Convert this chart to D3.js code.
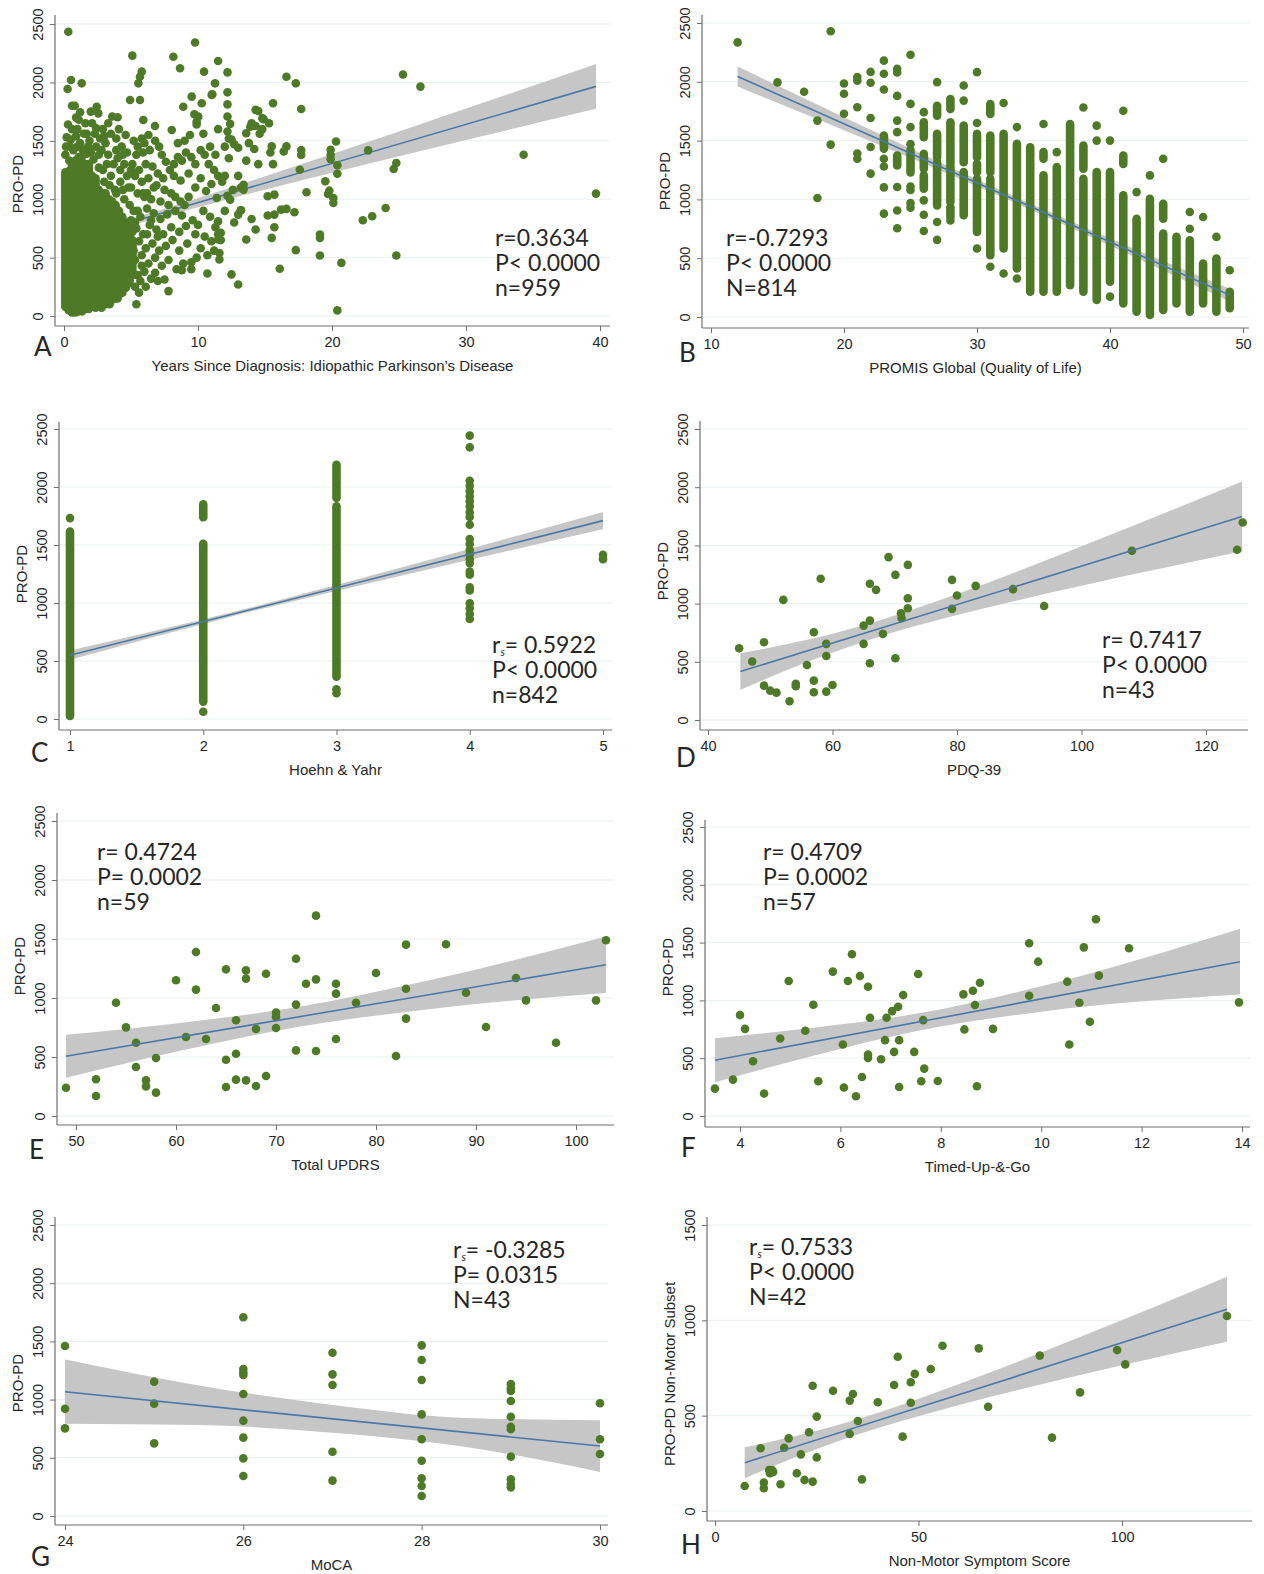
<!DOCTYPE html>
<html>
<head>
<meta charset="utf-8">
<script src="https://cdn.jsdelivr.net/npm/d3@7/dist/d3.min.js"></script>
<style>
  body { margin: 0; background: #fff; }
  svg { display: block; }
</style>
</head>
<body>
<svg id="chart" width="1264" height="1574"></svg>
<script>
// ---- Panel A: years since diagnosis ----
// dense core of the cloud, read as vertical runs [years, lo, hi]
const yearsRuns = [
  [0.1, 80, 1230], [0.35, 50, 1240], [0.6, 30, 1290], [0.85, 30, 1330], [1.1, 40, 1360],
  [1.35, 40, 1280], [1.6, 60, 1240], [1.85, 60, 1300], [2.1, 80, 1200], [2.35, 70, 1180],
  [2.6, 100, 1080], [2.85, 110, 1050], [3.1, 100, 1050], [3.35, 120, 1000], [3.6, 140, 980],
  [3.85, 150, 950], [4.1, 180, 900], [4.35, 200, 850], [4.6, 240, 800], [4.85, 280, 760], [5.1, 350, 650]
];
const yearsDots = [
  [0.32,2434],[0.52,2021],[0.27,1943],[1.32,1992],[0.6,1800],[0.8,1800],[0.3,1640],[1.0,1600],
  [1.2,1745],[2.1,1650],[2.4,1608],[2.44,1792],[2.56,1735],[3.6,1708],[4.0,1702],[1.6,1650],
  [4.93,1849],[5.67,1849],[5.1,2229],[5.8,2092],[5.67,2049],[5.55,1992],[5.92,1678],[6.79,1627],
  [8.16,2220],[8.66,2121],[9.78,2341],[10.45,2092],[11.5,2183],[12.2,2086],[11.27,1992],[11.07,1898],
  [12.2,1915],[12.2,1812],[9.53,1878],[10.28,1821],[11.02,1893],[8.9,1792],[9.73,1727],[10.02,1707],
  [9.9,1664],[8.04,1592],[12.2,1708],[12.4,1645],[12.2,1580],[12.5,1510],[12.7,1470],[13.0,1440],
  [13.6,1564],[13.9,1620],[14.3,1627],[14.5,1755],[14.9,1684],[15.6,1821],[16.6,2049],[17.3,1992],
  [17.7,1772],[25.3,2067],[26.6,1964],
  [0.2,1530],[0.5,1510],[0.9,1540],[1.2,1480],[1.5,1560],[1.9,1500],[2.3,1560],[2.7,1520],
  [3.1,1480],[3.5,1560],[3.9,1520],[4.3,1450],[4.7,1400],[0.7,1420],[1.4,1420],[2.0,1400],
  [2.6,1380],[3.3,1380],[4.0,1350],[4.5,1300],[2.9,1250],[3.5,1200],[4.2,1150],[4.8,1100],
  [3.0,1150],[3.8,1080],[4.5,1000],[4.9,950],[5.0,820],[5.1,720],[5.2,560],[5.0,420],
  [4.9,300],[4.6,250],[4.0,150],[3.4,100],[2.8,70],[5.4,100],[2.2,1340],[1.7,1390],
  [0.4,1330],[4.2,1250],[3.7,1300],
  [0.1,1380],[0.15,1450],[0.6,1600],[1.0,1450],[1.3,1350],[1.8,1450],[2.4,1450],[2.8,1420],
  [3.2,1300],[3.9,1420],[4.4,1380],[4.7,1200],[5.0,1250],[1.1,1680],[1.7,1560],[2.9,1600],
  [3.3,1650],[0.9,1700],[2.0,1750],[3.0,1540],[4.1,1600],[4.6,1550],[0.45,1450],[1.6,1300],
  [2.6,1270],[3.4,1120],[3.9,1050],[4.4,1080],
  [5.3,250],[5.6,200],[5.8,430],[6.2,700],[5.5,900],[6.5,820],[5.9,1050],[6.7,1100],
  [6.2,1050],[7.0,680],[5.3,800],[5.7,300],
  [5.2,1500],[5.5,1450],[5.8,1520],[6.0,1480],[6.3,1550],[5.4,1380],[5.9,1400],[6.4,1420],
  [6.8,1500],[7.1,1450],[7.3,1380],[7.6,1320],[7.9,1250],[8.2,1300],[5.1,1300],[5.6,1250],
  [6.1,1300],[6.6,1280],[7.0,1220],[7.4,1180],[5.3,1200],[5.8,1150],[6.3,1180],[6.9,1120],
  [7.5,1080],[8.0,1050],[5.0,1100],[5.5,1050],[6.0,1020],[6.5,1000],[7.2,980],[7.8,950],
  [8.3,1020],[8.7,980],[9.0,950],[9.3,1020],
  [8.5,1360],[8.8,1330],[9.1,1400],[9.5,1360],[9.8,1300],[10.2,1420],[10.5,1380],[10.8,1300],
  [11.2,1250],[11.5,1200],[11.8,1150],[12.0,1200],[12.3,1350],[12.0,1450],[12.3,1520],[11.5,1600],
  [9.0,1500],[8.5,1480],[9.4,1550],[9.9,1640],[10.4,1560],[10.9,1450],[11.3,1380],[8.2,1200],
  [8.7,1160],[9.3,1220],[9.8,1100],[10.2,1180],[10.6,1070],[11.0,1130],[11.4,1010],[12.2,1030],
  [12.6,1080],[13.0,1200],[13.2,1100],
  [5.2,900],[5.7,850],[6.2,920],[6.7,880],[7.2,830],[7.7,870],[8.3,900],[8.8,860],
  [5.4,750],[5.9,700],[6.4,780],[6.9,740],[7.4,700],[8.0,760],[8.6,720],[9.1,770],
  [5.1,600],[5.6,640],[6.1,580],[6.6,620],[7.1,560],[7.6,600],[8.1,650],[8.6,560],
  [9.2,620],[5.3,480],[5.8,520],[6.3,450],[6.8,500],[7.3,430],[7.8,480],[8.4,400],
  [8.9,450],[9.5,400],[5.5,350],[6.0,380],[6.5,320],[7.0,300],[7.5,313],[7.8,213],
  [6.1,250],[6.8,370],[8.8,393],[9.5,460],
  [9.6,820],[10.0,780],[10.4,900],[10.9,850],[11.3,760],[9.8,700],[10.5,680],[11.0,640],
  [11.5,700],[11.7,650],[10.2,580],[10.7,520],[11.2,560],[11.6,540],[11.6,484],[9.9,500],
  [10.7,364],[12.5,356],[13.0,270],[12.0,900],[12.4,996],[13.2,905],[13.0,868],[12.7,800],
  [11.5,811],[11.7,712],[11.5,655],
  [22.7,1418],[20.3,1494],[19.9,1423],[19.9,1380],[19.9,1343],[20.4,1290],[20.4,1218],[24.8,1310],
  [24.6,1258],[34.3,1380],[39.7,1048],[19.5,1153],[19.8,1073],[19.7,1045],[20.1,1010],[20.1,968],
  [18.1,1059],[15.5,1452],[15.4,1400],[15.6,1300],[16.4,1409],[16.6,1452],[17.6,1252],[17.7,1421],
  [17.7,1378],[24.0,925],[23.0,854],[22.3,820],[19.1,697],[19.1,669],[19.1,518],[20.7,455],
  [20.4,48],[24.8,518],[16.1,404],[17.3,564],[13.6,655],[15.5,669],[15.7,760],[14.3,740],
  [14.0,831],[15.2,860],[15.7,868],[16.2,911],[16.6,917],[17.2,888],[15.7,1039],[15.2,1025],
  [13.4,1124],[13.4,1082],[13.2,905],[14.8,1694],[14.0,1650],[14.3,1765],[13.8,1480],[14.2,1430],
  [14.6,1560],[14.8,1600],[15.3,1650],[13.6,1330],[14.5,1300]
];

// ---- Panel B: PROMIS global, integer columns ----
const promisRuns = [
  [23,1430,1543],[24,1288,1373],[25,1230,1420],
  [26,1528,1655],[26,1260,1387],[26,1091,1204],
  [27,1712,1796],[27,1359,1557],[27,949,1316],
  [28,1768,1853],[28,1316,1655],[28,978,1288],[28,850,935],
  [29,1316,1627],[29,865,1232],
  [30,1359,1557],[30,1232,1302],[30,723,1176],
  [31,1726,1810],[31,1232,1543],[31,526,1176],
  [32,582,1557],[33,413,1472],[34,215,1444],
  [35,1345,1402],[35,215,1204],[36,215,1275],[37,271,1641],
  [38,1260,1458],[38,215,1176],[39,144,1232],[40,300,1232],
  [41,1302,1373],[41,116,1034],[42,46,836],[43,17,1006],
  [44,836,963],[44,60,709],[45,116,681],[46,46,653],[47,116,455],[48,46,497],[49,74,215]
];
const promisDots = [
  [12,2335],[15,1995],[17,1915],[18,1670],[18,1012],[19,2430],[19,1466],
  [20,1985],[20,1898],[20,1728],[21,2040],[21,2010],[21,1784],[21,1390],[21,1345],
  [22,2084],[22,1992],[22,1692],[22,1445],[22,1219],
  [23,2180],[23,2068],[23,1935],[23,1345],[23,1280],[23,1102],[23,879],
  [24,2110],[24,2080],[24,1880],[24,1670],[24,1572],[24,1105],[24,905],[24,755],
  [25,2230],[25,1812],[25,1615],[25,1470],[25,1110],[25,1080],[25,968],[25,930],
  [26,1742],[26,992],[26,870],[26,731],[27,1997],[27,808],[27,656],[28,820],
  [29,1968],[29,1840],[30,2082],[30,1650],[30,582],[31,427],[32,1820],[32,370],
  [33,1615],[33,328],[35,1641],[36,1402],[38,1782],[39,1627],[39,1500],[40,1500],[40,173],
  [41,1754],[42,1062],[43,1204],[44,1345],[46,893],[46,751],[47,850],[48,681],[49,398]
];

// ---- Panel C: Hoehn & Yahr ----
const hyRuns = [[1,26,1617],[2,150,1510],[2,1740,1850],[3,365,1833],[3,1905,2060],[3,2080,2192]];
const hyDots = [
  [1,1732],[2,63],[3,222],[3,256],
  [4,2443],[4,2342],[4,2054],[4,2011],[4,1962],[4,1919],[4,1876],[4,1833],[4,1781],[4,1741],
  [4,1674],[4,1551],[4,1508],[4,1459],[4,1421],[4,1378],[4,1344],[4,1272],[4,1243],[4,1136],
  [4,1108],[4,998],[4,955],[4,906],[4,863],[5,1378],[5,1415]
];

// ---- Panel D: PDQ-39 ----
const pdqDots = [
  [45,616],[47.1,502],[49,668],[49,295],[50,252],[51,235],[52.1,1032],[53.1,161],[54.1,290],[54.1,312],
  [55.9,473],[57,754],[57,338],[57,238],[58.1,1213],[59,654],[59,550],[59,244],[60,301],[65,654],
  [65,811],[66,854],[66,1170],[66,487],[67,1118],[68.1,740],[69,1399],[70.1,1247],[70.1,530],[71,917],
  [71.1,874],[72.1,1333],[72.1,1046],[72.1,960],[79.2,1204],[79.2,955],[80,1069],[83,1152],[89,1124],[94,980],
  [108.1,1454],[125,1462],[125.9,1697]
];

// ---- Panel E: Total UPDRS ----
const updrsDots = [
  [49,240],[52,311],[52,169],[54,960],[55,751],[56,621],[56,415],[57,302],[57,251],[58,491],
  [58,198],[60,1150],[61,669],[62,1390],[62,1071],[63,653],[64,915],[65,1243],[65,477],[65,246],
  [66,811],[66,528],[66,308],[67,1234],[67,1164],[67,302],[68,737],[68,254],[69,1206],[69,339],
  [70,876],[70,839],[70,746],[72,1333],[72,944],[72,556],[73,1121],[74,1698],[74,1158],[74,551],
  [76,1121],[76,1037],[76,653],[78,960],[80,1212],[82,508],[83,1452],[83,1079],[83,825],[87,1455],
  [89,1045],[91,754],[94,1169],[95,980],[98,621],[102,980],[103,1489]
];

// ---- Panel F: Timed-Up-&-Go ----
const tugDots = [
  [3.5,237],[3.86,315],[4.0,873],[4.1,754],[4.26,474],[4.48,194],[4.8,671],[4.97,1168],[5.3,737],[5.46,962],
  [5.56,301],[5.85,1249],[6.05,618],[6.07,246],[6.15,1168],[6.23,1399],[6.31,171],[6.39,1211],[6.43,338],[6.55,1118],
  [6.55,532],[6.55,503],[6.59,850],[6.81,491],[6.89,656],[6.92,850],[7.03,907],[7.07,555],[7.15,945],[7.17,656],
  [7.17,251],[7.25,1046],[7.47,555],[7.55,1228],[7.61,301],[7.65,829],[7.67,410],[7.94,303],[8.45,1052],[8.47,749],
  [8.64,1084],[8.68,960],[8.72,257],[8.78,1153],[9.04,754],[9.76,1040],[9.76,1494],[9.94,1335],[10.52,1162],[10.56,618],
  [10.76,980],[10.85,1459],[10.97,815],[11.09,1702],[11.15,1214],[11.75,1451],[13.94,983]
];

// ---- Panel G: MoCA ----
const mocaDots = [
  [24,1460],[24,922],[24,753],[25,1154],[25,965],[25,624],
  [26,1707],[26,1263],[26,1234],[26,1211],[26,1048],[26,819],[26,673],[26,495],[26,344],
  [27,1403],[27,1217],[27,1125],[27,552],[27,304],
  [28,1466],[28,1340],[28,1168],[28,873],[28,659],[28,475],[28,324],[28,258],[28,172],
  [29,1134],[29,1097],[29,1074],[29,988],[29,853],[29,767],[29,745],[29,510],[29,315],[29,275],[29,246],
  [30,968],[30,659],[30,533]
];

// ---- Panel H: Non-motor symptom score ----
const nmsDots = [
  [7.3,131],[11.2,329],[12,149],[12,119],[13.3,215],[14,215],[13.5,198],[14.3,205],[16.1,140],[17,332],
  [18.1,381],[20.1,198],[21.1,297],[22,163],[23.1,413],[24,154],[24,657],[25,495],[25,281],[29,631],
  [33.1,579],[33.9,614],[33.1,404],[35.1,472],[36.1,166],[40,570],[44,661],[44.9,809],[46.1,390],[48.1,675],
  [48.1,568],[49.1,719],[53,745],[55.9,867],[64.8,853],[67.1,547],[79.8,815],[82.8,385],[89.7,622],[98.8,844],
  [100.8,769],[125.8,1023]
];

const fitLines = {
  A: [0, 636, 39.7, 1966], B: [12, 2045, 49, 186], C: [1, 550, 5, 1710], D: [45.2, 416, 125.8, 1749],
  E: [49, 506, 103, 1282], F: [3.5, 483, 13.96, 1335], G: [24, 1068, 30, 601], H: [7.3, 253, 125.8, 1058]
};
const bandX = {
  A: [0, 4.5, 10, 20, 30, 39.7], B: [12, 20, 34, 42, 49], C: [1, 2.2, 3.5, 5], D: [45.2, 55, 66, 80, 100, 125.8],
  E: [49, 60, 72, 85, 103], F: [3.5, 5.5, 7.5, 10, 13.96], G: [24, 25.5, 27, 28.5, 30], H: [7.3, 20, 35, 60, 90, 125.8]
};
const bandHW = {
  A: [45, 30, 40, 80, 135, 192], B: [85, 55, 25, 35, 55], C: [40, 18, 35, 75], D: [158, 100, 70, 90, 170, 300],
  E: [182, 120, 85, 120, 240], F: [190, 120, 75, 110, 285], G: [276, 170, 120, 125, 222], H: [81, 55, 40, 55, 100, 170]
};

const statsText = {
  A: ['r=0.3634', 'P< 0.0000', 'n=959'],
  B: ['r=-0.7293', 'P< 0.0000', 'N=814'],
  C: ['r_s= 0.5922', 'P< 0.0000', 'n=842'],
  D: ['r= 0.7417', 'P< 0.0000', 'n=43'],
  E: ['r= 0.4724', 'P= 0.0002', 'n=59'],
  F: ['r= 0.4709', 'P= 0.0002', 'n=57'],
  G: ['r_s= -0.3285', 'P= 0.0315', 'N=43'],
  H: ['r_s= 0.7533', 'P< 0.0000', 'N=42']
};

const proTicks = [0, 500, 1000, 1500, 2000, 2500];

// layout of the eight panels
const panels = [
  { id: 'A', runs: yearsRuns, dots: yearsDots, xTicks: [0, 10, 20, 30, 40], yTicks: proTicks,
    xRange: [64, 600], yRange: [316, 24], yAxisX: 55, xAxisY: 326, top: 15, right: 610, yTitleY: 184,
    xTitle: 'Years Since Diagnosis: Idiopathic Parkinson\u2019s Disease', yTitle: 'PRO-PD',
    stats: [495, 246], letter: [34, 356], lineOnTop: false },
  { id: 'B', runs: promisRuns, dots: promisDots, xTicks: [10, 20, 30, 40, 50], yTicks: proTicks,
    xRange: [711, 1243], yRange: [317, 23], yAxisX: 702, xAxisY: 328, top: 15, right: 1249, yTitleY: 181,
    xTitle: 'PROMIS Global (Quality of Life)', yTitle: 'PRO-PD',
    stats: [726, 246], letter: [679, 362], lineOnTop: true },
  { id: 'C', runs: hyRuns, dots: hyDots, xTicks: [1, 2, 3, 4, 5], yTicks: proTicks,
    xRange: [70, 603], yRange: [719, 429], yAxisX: 59, xAxisY: 730, top: 422, right: 612, yTitleY: 574,
    xTitle: 'Hoehn & Yahr', yTitle: 'PRO-PD',
    stats: [492, 653], letter: [31, 762], lineOnTop: true },
  { id: 'D', runs: [], dots: pdqDots, xTicks: [40, 60, 80, 100, 120], yTicks: proTicks,
    xRange: [708, 1206], yRange: [720, 429], yAxisX: 700, xAxisY: 730, top: 421, right: 1248, yTitleY: 571,
    xTitle: 'PDQ-39', yTitle: 'PRO-PD',
    stats: [1102, 648], letter: [676, 767], lineOnTop: true },
  { id: 'E', runs: [], dots: updrsDots, xTicks: [50, 60, 70, 80, 90, 100], yTicks: proTicks,
    xRange: [76, 576], yRange: [1116, 821], yAxisX: 57, xAxisY: 1125, top: 813, right: 614, yTitleY: 966,
    xTitle: 'Total UPDRS', yTitle: 'PRO-PD',
    stats: [97, 860], letter: [29, 1159], lineOnTop: true },
  { id: 'F', runs: [], dots: tugDots, xTicks: [4, 6, 8, 10, 12, 14], yTicks: proTicks,
    xRange: [740, 1242], yRange: [1116, 827], yAxisX: 705, xAxisY: 1127, top: 820, right: 1250, yTitleY: 967,
    xTitle: 'Timed-Up-&-Go', yTitle: 'PRO-PD',
    stats: [763, 860], letter: [681, 1157], lineOnTop: true },
  { id: 'G', runs: [], dots: mocaDots, xTicks: [24, 26, 28, 30], yTicks: proTicks,
    xRange: [65, 600], yRange: [1516, 1225], yAxisX: 55, xAxisY: 1525, top: 1217, right: 608, yTitleY: 1383,
    xTitle: 'MoCA', yTitle: 'PRO-PD',
    stats: [453, 1258], letter: [31, 1566], lineOnTop: true },
  { id: 'H', runs: [], dots: nmsDots, xTicks: [0, 50, 100], yTicks: [0, 500, 1000, 1500],
    xRange: [715, 1122], yRange: [1511, 1225], yAxisX: 707, xAxisY: 1521, top: 1217, right: 1252, yTitleY: 1374,
    xTitle: 'Non-Motor Symptom Score', yTitle: 'PRO-PD Non-Motor Subset',
    stats: [749, 1255], letter: [681, 1554], lineOnTop: true }
];

const GREEN = '#4e7a27';
const LINE = '#4a78a8';
const BAND = '#c6c6c6';
const AXIS = '#6f6f6f';
const GRID = '#e7eff1';
const TEXT = '#262626';
const AXIS_FONT = '"Liberation Sans", Arial, sans-serif';
const NOTE_FONT = 'Lato, "Open Sans", sans-serif';
const R = 4.3;

const svg = d3.select('#chart');

function drawPanel(p) {
  const g = svg.append('g').attr('class', 'panel panel-' + p.id);
  const xDomain = [p.xTicks[0], p.xTicks[p.xTicks.length - 1]];
  const yDomain = [p.yTicks[0], p.yTicks[p.yTicks.length - 1]];
  const x = d3.scaleLinear().domain(xDomain).range(p.xRange);
  const y = d3.scaleLinear().domain(yDomain).range(p.yRange);

  // gridlines
  g.selectAll('.grid').data(p.yTicks).join('line')
    .attr('class', 'grid')
    .attr('x1', p.yAxisX).attr('x2', p.right)
    .attr('y1', d => y(d)).attr('y2', d => y(d))
    .attr('stroke', GRID).attr('stroke-width', 1);

  // confidence band
  const f = fitLines[p.id];
  const fit = v => f[1] + (v - f[0]) * (f[3] - f[1]) / (f[2] - f[0]);
  const band = bandX[p.id].map((bx, i) => ({ x: bx, lo: fit(bx) - bandHW[p.id][i], hi: fit(bx) + bandHW[p.id][i] }));
  g.append('path')
    .datum(band)
    .attr('d', d3.area().x(d => x(d.x)).y0(d => y(d.lo)).y1(d => y(d.hi)).curve(d3.curveMonotoneX))
    .attr('fill', BAND);

  const drawLine = () => g.append('line')
    .attr('x1', x(f[0])).attr('y1', y(f[1]))
    .attr('x2', x(f[2])).attr('y2', y(f[3]))
    .attr('stroke', LINE).attr('stroke-width', 1.6);
  if (!p.lineOnTop) drawLine();

  // stacked runs of points and single points
  g.selectAll('.run').data(p.runs).join('line')
    .attr('class', 'run')
    .attr('x1', d => x(d[0])).attr('x2', d => x(d[0]))
    .attr('y1', d => y(d[1])).attr('y2', d => y(d[2]))
    .attr('stroke', GREEN).attr('stroke-width', R * 2).attr('stroke-linecap', 'round');
  g.selectAll('.dot').data(p.dots).join('circle')
    .attr('class', 'dot')
    .attr('cx', d => x(d[0])).attr('cy', d => y(d[1]))
    .attr('r', R).attr('fill', GREEN);

  if (p.lineOnTop) drawLine();

  // axes
  const ya = g.append('g')
    .attr('transform', `translate(${p.yAxisX},0)`)
    .call(d3.axisLeft(y).tickValues(p.yTicks).tickSize(5).tickFormat(d3.format('d')));
  const xa = g.append('g')
    .attr('transform', `translate(0,${p.xAxisY})`)
    .call(d3.axisBottom(x).tickValues(p.xTicks).tickSize(5).tickFormat(d3.format('d')));
  [ya, xa].forEach(a => {
    a.select('.domain').remove();
    a.attr('font-family', AXIS_FONT).attr('font-size', 14.5);
    a.selectAll('line').attr('stroke', AXIS);
    a.selectAll('text').attr('fill', TEXT);
  });
  ya.selectAll('text')
    .attr('x', 0).attr('dy', null)
    .attr('text-anchor', 'middle')
    .attr('transform', 'translate(-12,0) rotate(-90)');
  xa.selectAll('text').attr('y', 21).attr('dy', null);

  g.append('line')
    .attr('x1', p.yAxisX).attr('x2', p.yAxisX).attr('y1', p.top).attr('y2', p.xAxisY)
    .attr('stroke', AXIS).attr('stroke-width', 1.2);
  g.append('line')
    .attr('x1', p.yAxisX).attr('x2', p.right).attr('y1', p.xAxisY).attr('y2', p.xAxisY)
    .attr('stroke', AXIS).attr('stroke-width', 1.2);

  // axis titles
  g.append('text')
    .attr('x', (p.yAxisX + p.right) / 2).attr('y', p.xAxisY + 45)
    .attr('text-anchor', 'middle')
    .attr('font-family', AXIS_FONT).attr('font-size', 15).attr('fill', TEXT)
    .text(p.xTitle);
  g.append('text')
    .attr('transform', `translate(${p.yAxisX - 32},${p.yTitleY}) rotate(-90)`)
    .attr('text-anchor', 'middle')
    .attr('font-family', AXIS_FONT).attr('font-size', 15).attr('fill', TEXT)
    .text(p.yTitle);

  // statistics note
  statsText[p.id].forEach((s, i) => {
    const t = g.append('text')
      .attr('x', p.stats[0]).attr('y', p.stats[1] + i * 25)
      .attr('font-family', NOTE_FONT).attr('font-size', 23).attr('fill', TEXT);
    if (s.startsWith('r_s')) {
      t.append('tspan').text('r');
      t.append('tspan').text('s').attr('font-size', 11).attr('font-style', 'italic').attr('dy', 3);
      t.append('tspan').text(s.slice(3)).attr('dy', -3);
    } else {
      t.text(s);
    }
  });

  // panel letter
  g.append('text')
    .attr('x', p.letter[0]).attr('y', p.letter[1])
    .attr('font-family', NOTE_FONT).attr('font-size', 26).attr('fill', TEXT)
    .text(p.id);
}

panels.forEach(drawPanel);
</script>
</body>
</html>
